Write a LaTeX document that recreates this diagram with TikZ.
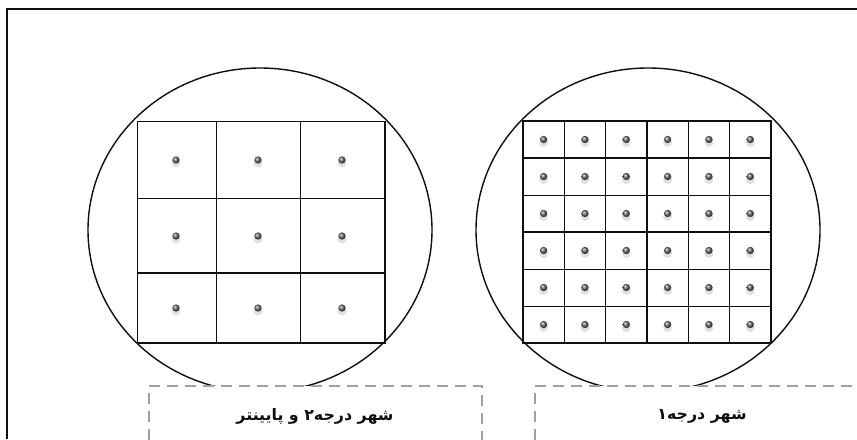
\documentclass[tikz,border=0pt]{standalone}
\usepackage{fontspec}
\TeXXeTstate=1
\newfontfamily\arabicfont[Script=Arabic]{DejaVu Sans}
\definecolor{ink}{RGB}{15,15,15}
\definecolor{dashgray}{RGB}{160,160,160}
\definecolor{dotgray}{RGB}{105,105,105}
\tikzset{
  frame/.style={draw=ink,line width=1.4pt},
  rim/.style={draw=ink,line width=1.2pt},
  cell/.style={draw=ink,line width=0.7pt},
  heavy cell/.style={draw=ink,line width=1.5pt},
  dot/.style={circle,inner sep=0pt,minimum size=2.2mm,ball color=dotgray},
  dot shadow/.style={fill=black!12},
  label box/.style={draw=dashgray,fill=white,line width=1.8pt,dash pattern=on 3.3mm off 2.1mm},
  caption/.style={font=\arabicfont\bfseries\fontsize{13.5}{15}\selectfont,text=ink},
}

\begin{document}
\begin{tikzpicture}[x=0.3mm,y=-0.3mm]
  \useasboundingbox (0,0) rectangle (857,439);
  % page frame (top and left only)
  \draw[frame] (857,9) -- (7,9) -- (7,439);

  % the two city discs
  \draw[rim] (260,230) ellipse [x radius=172,y radius=162];
  \draw[rim] (648,230) ellipse [x radius=172,y radius=162];

  % left city: 3x3 grid
  \draw[cell] (137,121) rectangle (385,343);
  \draw[cell] (216,121) -- (216,343) (300,121) -- (300,343);
  \draw[cell] (137,198) -- (385,198);
  \draw[heavy cell] (137,273) -- (385,273);
  \draw[heavy cell] (385,121) -- (385,343) -- (137,343);
  \foreach \x [count=\i] in {176,258,342}
    \foreach \y [count=\j] in {160,236,308} {
      \fill[dot shadow] (\x,\y+3) circle (4.5);
      \node[dot] (l\i\j) at (\x,\y) {};
    }

  % right city: 6x6 grid
  \foreach \k in {1,...,5} {
    \draw[cell] (523+\k*41.33,121) -- (523+\k*41.33,343);
    \draw[cell] (523,121+\k*37) -- (771,121+\k*37);
  }
  \draw[heavy cell] (523,121) rectangle (771,343);
  \draw[heavy cell] (647,121) -- (647,343);
  \draw[heavy cell] (523,158) -- (771,158) (523,232) -- (771,232);
  \foreach \i in {1,...,6}
    \foreach \j in {1,...,6} {
      \fill[dot shadow] (502.3+\i*41.33,102.5+\j*37+3) circle (4.5);
      \node[dot] (r\i\j) at (502.3+\i*41.33,102.5+\j*37) {};
    }

  % captions
  \path[label box] (149,440) -- (149,386) -- (482,386) -- (482,440);
  \path[label box] (535,440) -- (535,386) -- (858,386);
  \node[caption] (low) at (315,416) {\beginR شهر درجه۲ و پایینتر\endR};
  \node[caption] (top) at (702,416) {\beginR شهر درجه۱\endR};
\end{tikzpicture}
\end{document}
